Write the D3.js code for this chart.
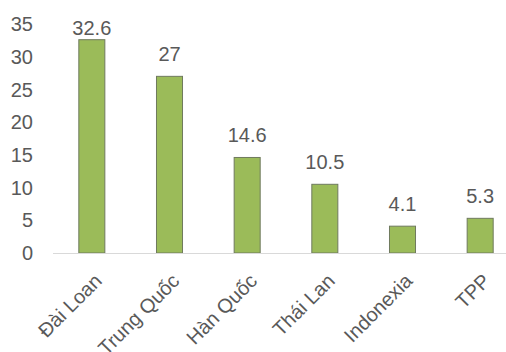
<!DOCTYPE html>
<html>
<head>
<meta charset="utf-8">
<script src="https://cdn.jsdelivr.net/npm/d3@7"></script>
<style>
  body { margin: 0; background: #fff; }
  text { font-family: "Liberation Sans", Arial, sans-serif; fill: #595959; }
</style>
</head>
<body>
<div id="chart"></div>
<script>
const categories = ["Đài Loan", "Trung Quốc", "Hàn Quốc", "Thái Lan", "Indonexia", "TPP"];
const values = [32.6, 27, 14.6, 10.5, 4.1, 5.3];
const yTicks = [0, 5, 10, 15, 20, 25, 30, 35];

const width = 506, height = 352;
const margin = {top: 24, right: -13, bottom: 99, left: 53};

const svg = d3.select("#chart").append("svg")
  .attr("width", width)
  .attr("height", height);

const xScale = d3.scaleBand()
  .domain(categories)
  .range([margin.left, width - margin.right])
  .paddingInner(0.665)
  .paddingOuter(0.3325);

const yScale = d3.scaleLinear()
  .domain([0, 35])
  .range([height - margin.bottom, margin.top]);

// y tick labels, no axis line
svg.append("g")
  .selectAll("text")
  .data(yTicks)
  .join("text")
  .attr("x", 33)
  .attr("y", d => yScale(d))
  .attr("dy", "0.36em")
  .attr("text-anchor", "end")
  .style("font-size", "20px")
  .text(d => d);

// bars
svg.append("g")
  .selectAll("rect")
  .data(values)
  .join("rect")
  .attr("x", (d, i) => xScale(categories[i]))
  .attr("y", d => yScale(d))
  .attr("width", xScale.bandwidth())
  .attr("height", d => yScale(0) - yScale(d))
  .attr("fill", "#9bbb59")
  .attr("stroke", "#6f7a5e")
  .attr("stroke-width", 1);

// baseline
svg.append("line")
  .attr("x1", margin.left)
  .attr("x2", width)
  .attr("y1", yScale(0) + 0.5)
  .attr("y2", yScale(0) + 0.5)
  .attr("stroke", "#d9d9d9")
  .attr("stroke-width", 1.2);

// value labels (the top one is kept inside the plot)
svg.append("g")
  .selectAll("text")
  .data(values)
  .join("text")
  .attr("x", (d, i) => xScale(categories[i]) + xScale.bandwidth() / 2)
  .attr("y", d => Math.max(yScale(d) - 15.5, 35))
  .attr("text-anchor", "middle")
  .style("font-size", "20px")
  .text(d => d);

// rotated category labels
svg.append("g")
  .selectAll("text")
  .data(categories)
  .join("text")
  .attr("text-anchor", "end")
  .attr("dy", "0.72em")
  .attr("transform", d => {
    const x = xScale(d) + xScale.bandwidth() / 2 + 1;
    const y = yScale(0) + 19;
    return "translate(" + x + "," + y + ") rotate(-45)";
  })
  .style("font-size", "20px")
  .text(d => d);
</script>
</body>
</html>
